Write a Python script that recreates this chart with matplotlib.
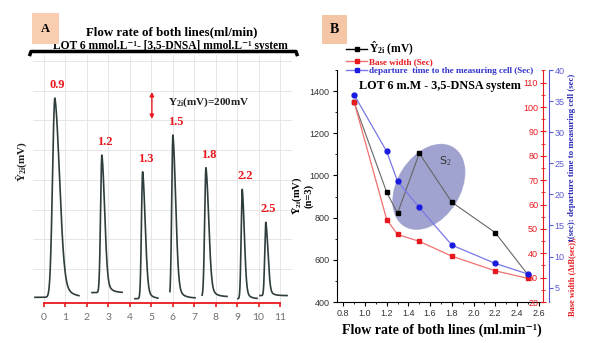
import numpy as np
import matplotlib
matplotlib.use('Agg')
import matplotlib.pyplot as plt
from matplotlib.patches import Ellipse
from matplotlib.lines import Line2D
from matplotlib.transforms import ScaledTranslation
from matplotlib.ticker import MultipleLocator

plt.rcParams['mathtext.fontset'] = 'custom'
plt.rcParams['mathtext.rm'] = 'Liberation Serif'
plt.rcParams['mathtext.bf'] = 'Liberation Serif:bold'
plt.rcParams['mathtext.it'] = 'Liberation Serif:italic'

SERIF = ['Liberation Serif', 'DejaVu Serif']
NARROW = ['Liberation Sans', 'DejaVu Sans']

# ---------------- Panel A data (signal peaks) ----------------
flow_labels = ['0.9', '1.2', '1.3', '1.5', '1.8', '2.2', '2.5']
peak_time = [0.51, 2.70, 4.60, 6.01, 7.55, 9.24, 10.34]
peak_top = [1481, 1059, 935, 1207, 965, 805, 561]      # mV
peak_base = [5, 40, -5, 0, 10, -5, 18]                 # mV baseline
seg_start = [-0.42, 2.24, 4.24, 5.87, 7.37, 9.04, 10.07]
seg_end = [1.63, 3.64, 5.31, 7.04, 8.53, 9.93, 11.33]
rise_w = [0.11, 0.06, 0.055, 0.055, 0.06, 0.05, 0.05]
tail_w = [0.22, 0.13, 0.12, 0.13, 0.13, 0.10, 0.10]
x_ticks_A = list(range(0, 12))

# ---------------- Panel B data ----------------
flow = [0.9, 1.2, 1.3, 1.5, 1.8, 2.2, 2.5]
y2i = [1346, 920, 821, 1105, 873, 729, 530]
base_width = [102, 53.8, 47.7, 44.9, 38.8, 32.8, 29.7]
departure = [36.0, 26.9, 22.1, 17.9, 11.85, 8.9, 7.2]

fig = plt.figure(figsize=(5.97, 3.43), dpi=100)
fig.patch.set_facecolor('white')

# ================= Panel A =================
axA = fig.add_axes([33/597, 1-303/343, 259/597, 248/343])
axA.set_xlim(-0.51, 11.56)
axA.set_ylim(-37, 1800)
for s in ['top', 'left', 'right']:
    axA.spines[s].set_visible(False)
axA.spines['bottom'].set_color('#e8191e')
axA.spines['bottom'].set_linewidth(1.3)
axA.spines['bottom'].set_bounds(0, 11)
axA.set_xticks(x_ticks_A)
axA.set_xticklabels([str(t) for t in x_ticks_A], fontsize=7.5, color='#707070',
                    family=['Lato', 'DejaVu Sans'])
axA.tick_params(axis='x', colors='#e8191e', length=3, width=1.2, labelcolor='#707070', pad=4)
axA.set_yticks(np.arange(215, 1800, 220))
axA.tick_params(axis='y', length=0, labelleft=False)
axA.grid(True, color='#e2e2e2', lw=0.6)
axA.set_axisbelow(True)

for i in range(len(peak_time)):
    x = np.linspace(seg_start[i], seg_end[i], 600)
    c = peak_time[i]
    amp = peak_top[i] - peak_base[i]
    left = np.exp(-0.5 * ((x - c) / rise_w[i]) ** 2)
    d = np.clip(x - c, 0, None)
    right = 0.8 * np.exp(-0.5 * (d / tail_w[i]) ** 2) + 0.2 * np.exp(-d / (tail_w[i] * 1.6))
    shape = np.where(x < c, left, right)
    axA.plot(x, peak_base[i] + amp * shape, color='#2f3d3d', lw=1.2, zorder=3)
    axA.annotate(flow_labels[i], (c, peak_top[i]), xytext=(2, 5), textcoords='offset points',
                 ha='center', va='bottom', color='#e8191e', fontsize=9,
                 fontweight='bold', family=SERIF)

# scale arrow 200 mV
axA.annotate('', xy=(5.03, 1326), xytext=(5.03, 1526),
             arrowprops=dict(arrowstyle='<|-|>', color='#e8191e', lw=1.0,
                             mutation_scale=6, shrinkA=0, shrinkB=0))
axA.text(5.8, 1452, r'Y$_{\mathbf{2i}}$(mV)=200mV', fontsize=8, fontweight='bold',
         family=SERIF, va='center', ha='left', color='#222222')

fig.text(22/597, 1-162/343, r'Ŷ$_{\mathbf{2i}}$(mV)', rotation=90, fontsize=8,
         fontweight='bold', family=SERIF, ha='center', va='center', color='#222222')

# Titles of A
fig.text(172/597, 1-32/343, 'Flow rate of both lines(ml/min)', fontsize=9.3,
         fontweight='bold', family=SERIF, ha='center', va='center')
fig.text(170/597, 1-46/343, 'LOT 6 mmol.L⁻¹- [3,5-DNSA] mmol.L⁻¹ system', fontsize=8.3,
         fontweight='bold', family=SERIF, ha='center', va='center')
fig.add_artist(Line2D([30/597, 31/597, 296/597, 297/597],
                      [1-54.5/343, 1-51.5/343, 1-51.5/343, 1-54.5/343],
                      color='black', lw=2.5, transform=fig.transFigure, zorder=10))

fig.text(45.5/597, 1-28.5/343, 'A', fontsize=9, fontweight='bold', family=SERIF,
         ha='center', va='center',
         bbox=dict(boxstyle='square,pad=0.75', fc='#f9cdb0', ec='none'))
fig.text(334.5/597, 1-29.5/343, 'B', fontsize=10, fontweight='bold', family=SERIF,
         ha='center', va='center',
         bbox=dict(boxstyle='square,pad=0.55', fc='#f5c6a6', ec='none'))

# ================= Panel B =================
axB = fig.add_axes([336.7/597, 1-302/343, 206.3/597, 232/343])
axB.set_xlim(0.739, 2.64)
axB.set_ylim(400, 1500)
axB.spines['top'].set_visible(False)
axB.spines['right'].set_visible(False)
axB.xaxis.set_minor_locator(MultipleLocator(0.1))
axB.yaxis.set_minor_locator(MultipleLocator(100))
axB.set_yticks(np.arange(400, 1401, 200))
axB.set_yticklabels([str(v) for v in np.arange(400, 1401, 200)], family=NARROW)
xt = np.round(np.arange(0.8, 2.61, 0.2), 1)
axB.set_xticks(xt)
axB.set_xticklabels([f'{v:.1f}' for v in xt], family=NARROW)
axB.tick_params(axis='both', which='major', direction='out', length=3, labelsize=6.5,
                labelcolor='#333333', pad=2)
axB.tick_params(axis='both', which='minor', direction='out', length=1.5)

ax2 = axB.twinx()
ax2.set_ylim(20, 115.2)
for s in ['top', 'bottom', 'right']:
    ax2.spines[s].set_visible(False)
ax2.spines['left'].set_position(('axes', 1.0))
ax2.spines['left'].set_color('#e8191e')
ax2.yaxis.tick_left()
ax2.yaxis.set_minor_locator(MultipleLocator(5))
rt = np.arange(20, 111, 10)
ax2.set_yticks(rt)
ax2.set_yticklabels([str(v) for v in rt], family=NARROW)
ax2.tick_params(axis='y', which='major', direction='inout', length=5, colors='#e8191e',
                labelsize=6.5, pad=1)
ax2.tick_params(axis='y', which='minor', direction='inout', length=3, colors='#e8191e')

ax3 = axB.twinx()
ax3.set_ylim(2.7, 40)
for s in ['top', 'bottom', 'left']:
    ax3.spines[s].set_visible(False)
ax3.spines['right'].set_position(('outward', 4.5))
ax3.spines['right'].set_color('#5a5ad6')
bt = np.arange(5, 41, 5)
ax3.set_yticks(bt)
ax3.set_yticklabels([str(v) for v in bt], family=NARROW)
ax3.tick_params(axis='y', direction='out', length=3, colors='#5a5ad6', labelsize=6.5, pad=1)

# ellipse S2 (behind lines)
ell = Ellipse((0, 0), width=0.92, height=0.62, angle=58,
              transform=fig.dpi_scale_trans + ScaledTranslation(1.588, 946, axB.transData),
              fc='#8084c0', ec='#9a9dcc', alpha=0.75, zorder=0.5)
axB.add_patch(ell)
axB.text(1.74, 1067, r'S$_2$', fontsize=8, color='#333333', family=['DejaVu Sans'],
         ha='center', va='center', zorder=5)

axB.plot(flow, y2i, color='#666666', lw=0.8, marker='s', ms=3.5, mfc='black',
         mec='black', zorder=3)
ax2.plot(flow, base_width, color='#f07070', lw=0.9, marker='s', ms=3.5, mfc='#e8191e',
         mec='#e8191e', zorder=3)
ax3.plot(flow, departure, color='#7878e6', lw=0.9, marker='o', ms=3.5, mfc='#1a1ae0',
         mec='#1a1ae0', zorder=3)

axB.text(0.944, 1425, 'LOT 6 m.M - 3,5-DNSA system', fontsize=8.7, fontweight='bold',
         family=SERIF, ha='left', va='center', zorder=6)

h1 = Line2D([], [], color='black', lw=1, marker='s', ms=3)
h2 = Line2D([], [], color='#f07070', lw=1, marker='s', ms=3, mfc='#e8191e', mec='#e8191e')
h3 = Line2D([], [], color='#7878e6', lw=1, marker='s', ms=3, mfc='#1a1ae0', mec='#1a1ae0')
leg = fig.legend([h1, h2, h3],
                 [r'Ŷ$_{\mathbf{2i}}$ (mV)', 'Base width (Sec)',
                  'departure  time to the measuring cell (Sec)'],
                 loc='upper left', bbox_to_anchor=(346/597, 1-40/343), frameon=False,
                 prop=dict(family=SERIF, weight='bold', size=6.6), handlelength=2.3,
                 handletextpad=0.2, borderpad=0, labelspacing=0.05, borderaxespad=0)
txts = leg.get_texts()
txts[0].set_fontsize(8.3)
txts[0].set_color('black')
txts[1].set_color('#e8191e')
txts[2].set_color('#3333cc')

fig.text(302/597, 1-196/343, 'Ȳ$_{\\mathbf{2i}}$(mV)\n(n=3)', rotation=90, fontsize=7.6,
         fontweight='bold', family=SERIF, ha='center', va='center', linespacing=0.95,
         multialignment='center')

fig.text(442/597, 1-330/343, 'Flow rate of both lines (ml.min⁻¹)', fontsize=10,
         fontweight='bold', family=SERIF, ha='center', va='center')

fig.text(572/597, 1-277/343, 'Base width (ΔtB(sec)),', rotation=90, fontsize=6,
         fontweight='bold', family=SERIF, ha='center', va='center', color='#e8191e')
fig.text(572/597, 1-157/343, 't(sec): departure time to measuring cell (sec)', rotation=90,
         fontsize=6.4, fontweight='bold', family=SERIF, ha='center', va='center',
         color='#2a2ab8')

fig.savefig('out.png', dpi=100, facecolor='white')
